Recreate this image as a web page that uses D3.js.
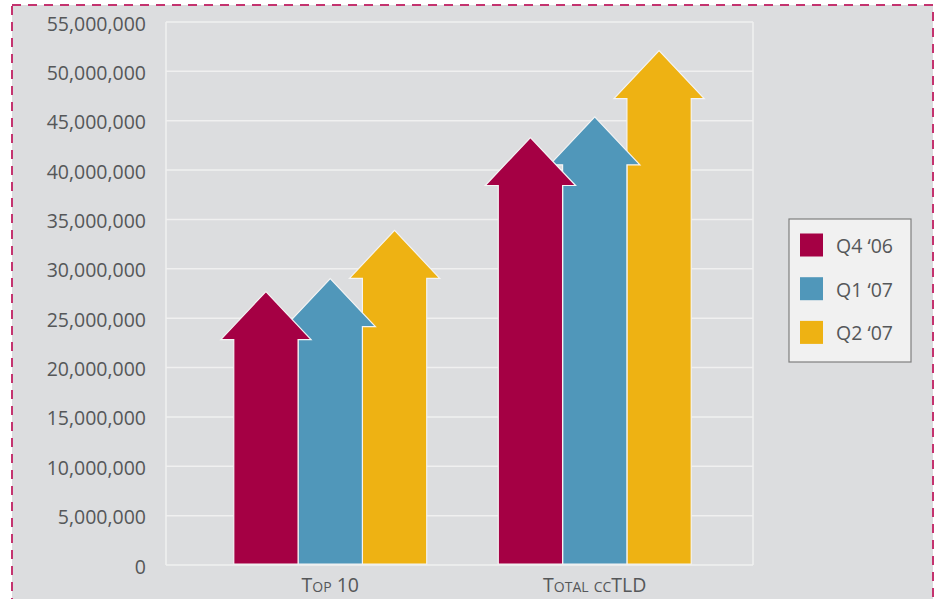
<!DOCTYPE html>
<html>
<head>
<meta charset="utf-8">
<script src="https://cdn.jsdelivr.net/npm/d3@7"></script>
<style>
  html, body { margin: 0; padding: 0; background: #ffffff; }
  svg { display: block; }
  text { font-family: "Open Sans", "Noto Sans", sans-serif; fill: #555759; }
</style>
</head>
<body>
<svg id="chart" width="938" height="599"></svg>
<script>
// Domain registrations by group and quarter
const categories = ["Top 10", "Total ccTLD"];
const series = ["Q4 \u201806", "Q1 \u201807", "Q2 \u201807"];
const colors = ["#a50044", "#5097ba", "#eeb213"];
const valuesQ4_06 = [27700000, 43300000];
const valuesQ1_07 = [29000000, 45400000];
const valuesQ2_07 = [33900000, 52100000];
const yTicks = [0, 5000000, 10000000, 15000000, 20000000, 25000000, 30000000,
                35000000, 40000000, 45000000, 50000000, 55000000];

const seriesValues = [valuesQ4_06, valuesQ1_07, valuesQ2_07];

const svg = d3.select("#chart");

// Panel background with dashed frame
svg.append("rect")
  .attr("x", 12).attr("y", 5)
  .attr("width", 921).attr("height", 620)
  .attr("fill", "#dcdddf")
  .attr("stroke", "#c4336f")
  .attr("stroke-width", 2)
  .attr("stroke-dasharray", "9,7");

const plot = { left: 166, right: 753, top: 22, bottom: 565 };

const y = d3.scaleLinear().domain([0, 55000000]).range([plot.bottom, plot.top]);
const x0 = d3.scaleBand().domain(categories).range([198, 727]).padding(0);
const x1 = d3.scaleBand().domain(series).range([0, x0.bandwidth()])
  .paddingInner(0).paddingOuter(0.556);

// Grid lines
const gridColor = "#f0f0f0";
svg.append("g").selectAll("line")
  .data(yTicks)
  .join("line")
  .attr("x1", plot.left).attr("x2", plot.right)
  .attr("y1", d => y(d)).attr("y2", d => y(d))
  .attr("stroke", gridColor).attr("stroke-width", 1.5);

svg.append("line")
  .attr("x1", plot.left).attr("x2", plot.left)
  .attr("y1", y(55000000)).attr("y2", y(0))
  .attr("stroke", gridColor).attr("stroke-width", 1.5);
svg.append("line")
  .attr("x1", plot.right).attr("x2", plot.right)
  .attr("y1", y(55000000)).attr("y2", y(0))
  .attr("stroke", gridColor).attr("stroke-width", 1.5);

// Y axis labels
const fmt = d3.format(",");
svg.append("g").selectAll("text")
  .data(yTicks)
  .join("text")
  .attr("x", 146)
  .attr("y", d => y(d) + 8.5)
  .attr("text-anchor", "end")
  .attr("font-size", 19.5)
  .text(d => fmt(d));

// Arrow-shaped bars
const headH = 48;
const wing = 13;
const base = y(0) - 1;
function arrowPath(xl, w, v) {
  const tip = y(v);
  const shoulder = tip + headH;
  const cx = xl + w / 2;
  return [
    [xl, base], [xl, shoulder], [xl - wing, shoulder], [cx, tip],
    [xl + w + wing, shoulder], [xl + w, shoulder], [xl + w, base]
  ].map((p, i) => (i ? "L" : "M") + p[0] + "," + p[1]).join("") + "Z";
}

const arrows = [];
categories.forEach((c, ci) => {
  series.forEach((s, si) => {
    arrows.push({ c, s, si, v: seriesValues[si][ci] });
  });
});
// later quarters sit underneath earlier ones
arrows.sort((a, b) => b.si - a.si);

svg.append("g").selectAll("path")
  .data(arrows)
  .join("path")
  .attr("d", d => arrowPath(x0(d.c) + x1(d.s), x1.bandwidth(), d.v))
  .attr("fill", d => colors[d.si])
  .attr("stroke", "#f4f4f4")
  .attr("stroke-width", 1.2)
  .attr("stroke-linejoin", "miter");

// Category labels
svg.append("g").selectAll("text")
  .data(categories)
  .join("text")
  .attr("x", d => x0(d) + x0.bandwidth() / 2)
  .attr("y", 592)
  .attr("text-anchor", "middle")
  .attr("font-size", 19.5)
  .style("font-variant", "small-caps")
  .text(d => d);

// Legend
const legend = svg.append("g");
legend.append("rect")
  .attr("x", 789).attr("y", 219)
  .attr("width", 122).attr("height", 143)
  .attr("fill", "#f1f1f1")
  .attr("stroke", "#7f7f7f")
  .attr("stroke-width", 1.2);
series.forEach((s, i) => {
  const cy = 245 + i * 43.7;
  legend.append("rect")
    .attr("x", 800).attr("y", cy - 11.5)
    .attr("width", 23).attr("height", 23)
    .attr("fill", colors[i]);
  legend.append("text")
    .attr("x", 836).attr("y", cy + 8)
    .attr("font-size", 19.5)
    .text(s);
});
</script>
</body>
</html>
